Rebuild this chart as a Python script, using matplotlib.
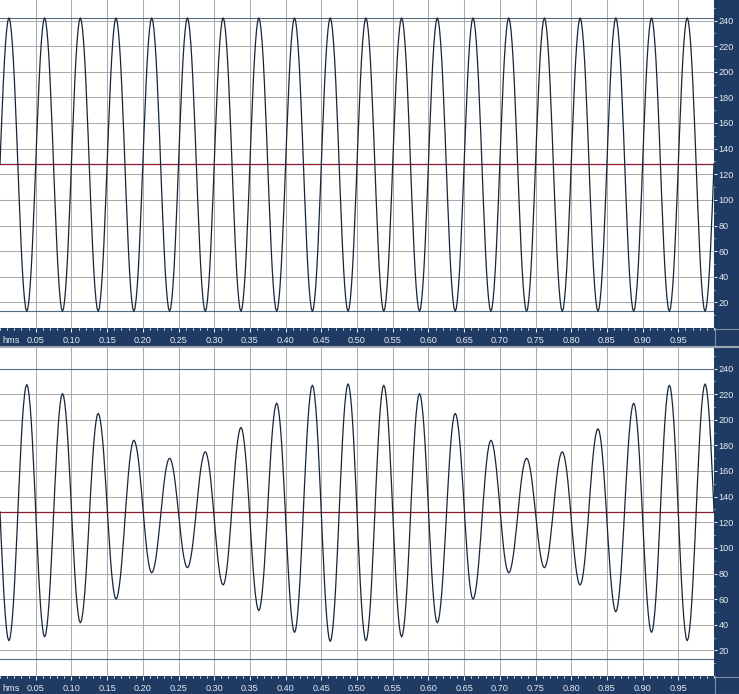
import numpy as np
import matplotlib.pyplot as plt
from matplotlib.ticker import FixedLocator, MultipleLocator
from matplotlib.patches import Rectangle
from matplotlib.lines import Line2D

plt.rcParams['font.family'] = ['Liberation Sans', 'DejaVu Sans']

# %% values (8-bit sample values, 128 = centre line)

centre = 128
first_extreme = 0.0125   # time of the first peak / trough
half_cycle = 0.025       # one peak -> trough swing

# top panel: plain tone, peak, trough, peak, ...
top_extremes = [
    242, 13, 242, 13, 242, 13, 242, 13, 242, 13,
    242, 13, 242, 13, 242, 13, 242, 13, 242, 13,
    242, 13, 242, 13, 242, 13, 242, 13, 242, 13,
    242, 13, 242, 13, 242, 13, 242, 13, 242, 13,
]

# bottom panel: beating tone, trough, peak, trough, ...
bottom_extremes = [
    27.5, 227.5, 30.5, 220.5, 41.5, 205, 60, 184, 80.5, 170,
    84.5, 175, 71, 194, 51, 213, 34, 227, 27, 228,
    27.5, 227, 30.5, 220.5, 41.5, 205, 60, 184, 80.5, 170,
    84.5, 175, 71, 193, 50, 213, 34, 227, 27.5, 228,
]

# dark level lines drawn in each panel
top_levels = [242, 13]
bottom_levels = [239.5, 13.5]

quarter = [0.0, 0.2, 0.38, 0.56, 0.71, 0.83, 0.92, 0.98, 1.0]

x_ticks = [0.05, 0.10, 0.15, 0.20, 0.25, 0.30, 0.35, 0.40, 0.45, 0.50,
           0.55, 0.60, 0.65, 0.70, 0.75, 0.80, 0.85, 0.90, 0.95]
x_labels = ["%.2f" % v for v in x_ticks]
y_ticks = [20, 40, 60, 80, 100, 120, 140, 160, 180, 200, 220, 240]

# %% build the drawn wave from the extremes

def build_wave(extremes):
    q = np.array(quarter)
    frac = np.arange(len(q)) / (len(q) - 1)
    qt = half_cycle / 2
    times = list(frac * first_extreme)
    vals = list(centre + (extremes[0] - centre) * q)
    for i in range(len(extremes) - 1):
        a, b = extremes[i], extremes[i + 1]
        m = (a + b) / 2
        ta = first_extreme + i * half_cycle
        times += list(ta + frac[1:] * qt)
        vals += list(m + (a - m) * q[::-1][1:])
        times += list(ta + qt + frac[1:] * qt)
        vals += list(m + (b - m) * q[1:])
    t_last = first_extreme + (len(extremes) - 1) * half_cycle
    times += list(t_last + frac[1:] * (1.0 - t_last))
    vals += list(centre + (extremes[-1] - centre) * q[::-1][1:])
    return np.array(times), np.array(vals)

# %% figure

W, H = 739, 694
strip = "#1f3b63"
txt = "#e6ebf1"
fs = 6.6

fig = plt.figure(figsize=(W / 100, H / 100), dpi=100, facecolor=strip)


def panel(top_px, extremes, levels):
    ax = fig.add_axes([0, 1 - (top_px + 328) / H, 714 / W, 328 / H])
    ax.set_facecolor("white")
    for s in ax.spines.values():
        s.set_visible(False)

    t, v = build_wave(extremes)
    ax.plot(t, v, color="#16263a", lw=0.9, zorder=4)
    ax.axhline(centre, color="#8e1b2e", lw=0.9, zorder=3)
    for lv in levels:
        ax.axhline(lv, color="#566c80", lw=0.8, zorder=2)

    ax.set_xlim(0, 1.0)
    ax.set_ylim(0, 256)

    ax.xaxis.set_major_locator(FixedLocator(x_ticks))
    ax.set_xticklabels(x_labels)
    ax.xaxis.set_minor_locator(MultipleLocator(0.01))
    ax.yaxis.tick_right()
    ax.yaxis.set_major_locator(FixedLocator(y_ticks))
    ax.yaxis.set_minor_locator(MultipleLocator(10))

    ax.grid(True, which="major", color="#ababab", lw=0.75, zorder=1)
    ax.set_axisbelow(True)

    ax.tick_params(axis="x", which="major", direction="out", length=2.9, width=0.75,
                   colors=txt, labelsize=fs, pad=3.2)
    ax.tick_params(axis="x", which="minor", direction="out", length=1.5, width=0.75,
                   color=txt)
    ax.tick_params(axis="y", which="major", direction="out", length=2.4, width=0.75,
                   colors=txt, labelsize=fs, pad=0.8)
    ax.tick_params(axis="y", which="minor", direction="out", length=1.0, width=0.75,
                   color=txt)

    base = top_px + 328
    fig.text(2 / W, 1 - (base + 12.5) / H, "hms", color=txt, fontsize=fs,
             ha="left", va="center")
    fig.add_artist(Rectangle((715 / W, 1 - (base + 18) / H), 30 / W, 17 / H,
                             transform=fig.transFigure, fill=False,
                             edgecolor="#7f90a6", lw=0.8))
    return ax


ax1 = panel(0, top_extremes, top_levels)
ax2 = panel(348, bottom_extremes, bottom_levels)

# light separator between the two views
fig.add_artist(Line2D([0, 1], [1 - 347 / H] * 2, transform=fig.transFigure,
                      color="#9ba7b4", lw=1.5))

fig.savefig("out.png", dpi=100, facecolor=fig.get_facecolor())
